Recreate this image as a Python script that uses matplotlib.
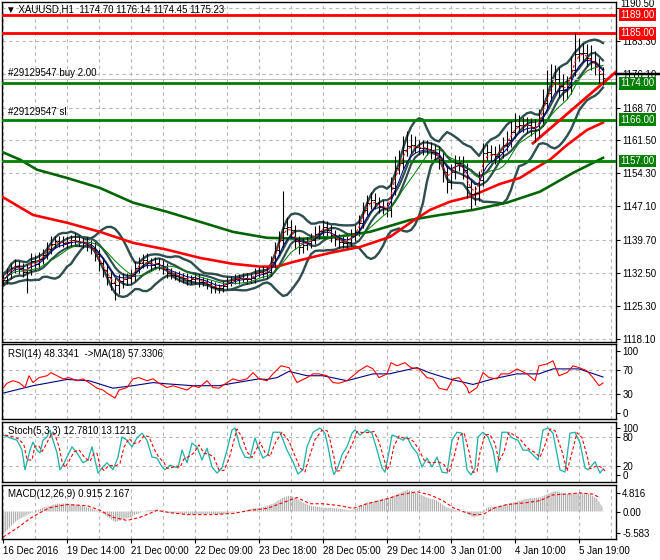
import matplotlib
matplotlib.use('Agg')
import matplotlib.pyplot as plt
import matplotlib.transforms as mtransforms
import numpy as np
import pandas as pd

plt.rcParams['font.family'] = ['Liberation Sans', 'DejaVu Sans']
plt.rcParams['hatch.linewidth'] = 0.9
plt.rcParams['hatch.color'] = '#b0b0b0'

W, H = 660, 560

# XAUUSD H1, one sample every 2nd bar (bar index 0 .. 300)
bar_x = np.arange(0, 301, 2)
closes = [
    1131.0, 1132.3, 1133.6, 1134.1, 1133.6, 1132.8, 1133.2, 1135.2, 1134.5, 1135.6,
    1136.5, 1137.8, 1138.9, 1139.5, 1139.3, 1139.1, 1139.3, 1139.8, 1139.5, 1139.3,
    1139.1, 1138.7, 1138.0, 1136.7, 1134.7, 1133.2, 1131.7, 1130.3, 1129.9, 1130.8,
    1131.2, 1131.4, 1131.9, 1133.6, 1134.7, 1135.4, 1134.7, 1134.3, 1134.7, 1134.3,
    1133.4, 1132.5, 1132.1, 1131.9, 1131.7, 1131.4, 1131.0, 1131.2, 1131.4, 1130.6,
    1130.6, 1130.1, 1129.5, 1129.3, 1129.3, 1129.7, 1130.6, 1131.0, 1131.2, 1131.4,
    1131.4, 1131.2, 1131.4, 1132.5, 1132.8, 1132.5, 1132.8, 1134.9, 1137.6, 1139.8,
    1142.4, 1142.6, 1141.9, 1139.5, 1138.2, 1138.7, 1139.1, 1139.8, 1141.1, 1141.7,
    1142.6, 1141.9, 1140.8, 1140.0, 1139.3, 1139.1, 1139.3, 1140.6, 1141.5, 1143.5,
    1146.3, 1147.9, 1148.5, 1147.9, 1147.2, 1146.8, 1146.3, 1151.1, 1155.5, 1156.6,
    1159.5, 1160.3, 1160.5, 1160.1, 1159.9, 1159.9, 1159.7, 1159.0, 1158.8, 1157.3,
    1154.6, 1152.4, 1154.6, 1156.6, 1156.6, 1155.1, 1151.4, 1149.8, 1150.0, 1152.9,
    1158.8, 1159.0, 1158.6, 1158.1, 1159.0, 1160.5, 1161.6, 1163.4, 1164.7, 1164.9,
    1164.9, 1164.9, 1164.5, 1163.8, 1166.0, 1169.7, 1171.9, 1174.3, 1175.0, 1173.5,
    1172.6, 1173.2, 1177.0, 1180.5, 1180.7, 1180.7, 1179.6, 1178.7, 1177.8, 1176.1,
    1175.2]
# wick above max(open, close) and below min(open, close)
bar_up = [
    1.0, 1.2, 1.0, 1.4, 1.0, 1.0, 1.2, 1.6, 1.2, 1.4,
    1.2, 1.4, 1.6, 1.2, 1.0, 1.4, 1.2, 1.0, 1.4, 1.2,
    1.0, 1.2, 1.0, 1.2, 1.0, 1.0, 1.2, 1.0, 1.0, 1.4,
    1.2, 1.0, 1.4, 1.6, 1.2, 1.2, 1.4, 1.0, 1.2, 1.0,
    1.0, 1.2, 1.0, 0.8, 1.0, 0.8, 1.0, 0.8, 1.0, 0.8,
    1.0, 0.8, 0.8, 1.0, 0.8, 1.0, 1.0, 0.8, 1.0, 0.8,
    1.0, 1.2, 1.0, 1.2, 1.0, 1.2, 1.0, 1.4, 1.6, 1.8,
    8.0, 2.2, 1.4, 1.2, 1.2, 1.4, 1.2, 1.4, 1.6, 1.2,
    1.4, 1.2, 1.2, 1.0, 1.0, 1.2, 1.4, 1.6, 1.4, 1.8,
    1.8, 1.6, 1.8, 1.4, 1.2, 1.2, 1.2, 2.4, 2.6, 2.8,
    3.0, 3.2, 2.4, 2.0, 1.6, 1.6, 1.8, 1.4, 1.6, 1.4,
    1.6, 1.6, 1.8, 1.8, 1.6, 1.6, 1.4, 1.4, 1.6, 2.0,
    2.2, 1.8, 1.6, 1.6, 1.8, 1.8, 2.0, 2.4, 2.8, 2.2,
    1.8, 1.8, 1.6, 1.6, 2.4, 3.0, 5.0, 4.0, 3.0, 2.6,
    2.6, 2.4, 3.0, 4.5, 3.2, 2.2, 2.0, 2.8, 2.4, 1.8,
    1.4]
bar_dn = [
    1.2, 1.0, 1.2, 1.0, 1.4, 1.2, 4.6, 1.2, 1.4, 1.0,
    1.2, 1.0, 1.2, 1.0, 1.2, 1.0, 1.2, 1.0, 1.2, 1.0,
    1.2, 1.4, 1.4, 1.6, 1.8, 1.6, 1.8, 1.6, 3.4, 2.0,
    1.6, 1.4, 1.2, 1.2, 1.0, 1.2, 1.0, 1.2, 1.0, 1.2,
    1.2, 1.0, 1.0, 1.0, 1.2, 1.0, 1.2, 1.0, 1.0, 1.2,
    1.0, 1.2, 1.4, 1.2, 1.2, 1.0, 1.0, 1.0, 0.8, 1.0,
    0.8, 1.0, 0.8, 1.0, 0.8, 1.0, 1.0, 1.0, 1.2, 1.2,
    1.6, 1.6, 1.8, 1.8, 1.6, 1.4, 1.2, 1.2, 1.0, 1.2,
    1.2, 1.4, 1.6, 1.6, 1.4, 1.2, 1.2, 1.0, 1.2, 1.0,
    1.2, 1.2, 1.4, 1.4, 1.6, 1.4, 1.6, 1.6, 1.6, 1.4,
    1.4, 1.4, 1.6, 1.4, 1.4, 1.6, 1.4, 1.6, 1.6, 2.0,
    2.2, 2.4, 1.6, 1.6, 1.8, 2.0, 2.4, 3.2, 2.4, 1.8,
    1.4, 1.6, 1.6, 1.8, 1.4, 1.4, 1.4, 1.6, 1.4, 1.4,
    1.6, 1.8, 2.0, 2.6, 1.6, 1.4, 1.6, 1.8, 2.2, 2.4,
    2.4, 2.0, 1.6, 1.4, 1.6, 2.0, 1.8, 1.8, 2.0, 2.0,
    1.6]

# slow moving averages (need history before the window)
ma_red_x = [-0.5, 15, 32, 48.5, 65, 82, 98.5, 115, 128.5, 137, 145, 155, 163.5, 178.5,
            193.5, 205, 213.5, 223.5, 233.5, 248.5, 258.5, 265, 273.5, 282, 292, 300]
ma_red = [1149.2, 1145.2, 1143.5, 1141.5, 1139.1, 1137.6, 1135.8, 1134.5, 1133.9, 1133.9,
          1134.9, 1136.0, 1136.9, 1138.2, 1140.4, 1143.9, 1146.3, 1148.1, 1149.2, 1152.0,
          1153.3, 1155.1, 1157.3, 1160.5, 1163.8, 1165.4]
ma_green_x = [-0.5, 8.5, 17, 32, 48.5, 65, 82, 98.5, 115, 132, 148.5, 163.5, 183.5, 203.5,
              218.5, 235, 252, 268.5, 285, 300]
ma_green = [1159.0, 1157.3, 1155.1, 1153.3, 1151.1, 1147.9, 1145.9, 1143.7, 1141.5, 1140.2,
            1140.0, 1140.2, 1141.5, 1144.1, 1145.2, 1146.3, 1147.9, 1150.3, 1154.4, 1157.7]

trend_x = [265, 306.5]
trend_y = [1160.9, 1176.5]

red_levels = [1189.0, 1185.0]
green_levels = [1174.0, 1166.0, 1157.0]
order_price = 1174.9
price_ticks = [1190.50, 1183.30, 1176.10, 1168.70, 1161.50, 1154.30, 1147.10,
               1139.70, 1132.50, 1125.30, 1118.10]

# RSI(14) and its MA(18)
rsi_x = [0, 2, 5, 8, 11, 13, 15, 18, 22, 24, 27, 30, 33, 37, 40, 43, 47, 50, 52, 56,
         58, 62, 65, 68, 72, 75, 78, 82, 85, 88, 92, 95, 98, 102, 105, 108, 112, 115, 118, 122,
         125, 128, 132, 135, 139, 143, 147, 150, 152, 155, 158, 162, 165, 168, 172, 175, 178, 182, 185, 188,
         192, 194, 197, 201, 204, 208, 212, 215, 218, 222, 225, 228, 232, 233, 237, 240, 243, 247, 249, 253,
         257, 262, 266, 268, 272, 275, 278, 282, 285, 288, 292, 295, 298, 300]
rsi = [40, 48, 52, 49, 41, 60, 49, 57, 60, 65, 60, 55, 57, 52, 55, 49, 40, 37, 32, 24,
       37, 41, 55, 57, 52, 55, 48, 41, 44, 41, 37, 44, 41, 52, 41, 40, 49, 55, 52, 55,
       65, 55, 52, 63, 76, 73, 49, 54, 57, 63, 63, 60, 49, 48, 52, 60, 68, 76, 71, 57,
       63, 81, 76, 81, 73, 71, 57, 55, 40, 37, 55, 57, 41, 32, 41, 65, 57, 55, 63, 63,
       71, 63, 52, 76, 79, 84, 60, 65, 76, 73, 68, 57, 44, 48.3]
rsima_x = [0, 15, 32, 43, 55, 65, 75, 82, 95, 108, 115, 128, 132, 137, 143, 152, 160, 172,
           185, 193, 207, 213, 223, 235, 245, 257, 268, 275, 288, 300]
rsima = [32, 44, 54, 52, 40, 44, 49, 47, 44, 44, 48, 55, 54, 57, 67, 60, 60, 52,
         63, 63, 73, 65, 55, 46, 55, 63, 63, 71, 71, 58]

# Stochastic %K (5,3,3)
stk_x = [0, 3.5, 7, 9.5, 11, 13.5, 15, 17, 18.5, 20,
         22, 23.5, 25, 27, 28.5, 30, 32, 34.5, 37, 40,
         42.5, 44.5, 46, 47.5, 49.5, 52, 55, 57.5, 59.5, 62,
         64.5, 67, 69.5, 72, 74.5, 77, 79.5, 81, 83.5, 86,
         87.5, 89.5, 92, 94.5, 97, 99.5, 102, 104.5, 107, 109.5,
         112, 114.5, 116, 118.5, 121, 123.5, 126, 127.5, 130, 132.5,
         135, 138.5, 142, 145, 147.5, 150, 152, 155, 158.5, 161,
         162.5, 164.5, 165.5, 167.5, 169.5, 172, 174.5, 176, 178.5, 182,
         184.5, 187, 189.5, 191, 192.5, 194.5, 197, 200, 202, 204.5,
         207, 209.5, 212, 214.5, 217, 219.5, 222, 224.5, 227, 229.5,
         232, 234, 236, 237.5, 240, 242.5, 245, 247, 249.5, 252,
         254.5, 257.5, 260, 262.5, 265, 267.5, 270, 272.5, 275, 278.5,
         281, 283.5, 286, 288.5, 291, 292.5, 296, 298.5, 300]
stk = [85, 79, 74, 53, 11, 53, 70, 53, 47, 74,
       81, 96, 74, 47, 11, 21, 38, 60, 47, 26,
       32, 60, 32, 4, 15, 26, 11, 38, 81, 74,
       60, 79, 89, 74, 38, 36, 17, 11, 21, 17,
       15, 53, 26, 68, 60, 32, 57, 17, 4, 15,
       53, 96, 100, 60, 38, 36, 79, 60, 36, 43,
       91, 91, 53, 28, 2, 11, 60, 91, 100, 89,
       60, 15, 1, 17, 43, 60, 89, 96, 85, 96,
       89, 53, 15, 6, 38, 85, 81, 74, 81, 60,
       47, 17, 36, 17, 38, 6, 4, 74, 91, 89,
       11, 0, 15, 81, 91, 81, 53, 6, 91, 91,
       79, 74, 53, 53, 43, 32, 96, 100, 89, 11,
       6, 89, 91, 68, 15, 11, 28, 4, 12.8]

# MACD(12,26,9)
macd_x = [0, 3.5, 7, 10, 13.5, 17, 20, 23.5, 27, 32, 37, 42, 47, 50, 53.5, 56, 58.5, 63.5, 67, 72,
          77, 82, 88.5, 95, 102, 108.5, 113.5, 118.5, 125, 130, 135, 140, 143.5, 147, 150, 153.5,
          160, 167, 173.5, 177, 182, 187, 193.5, 198.5, 202, 207, 212, 217, 222, 227, 232, 235,
          238.5, 242, 248.5, 255, 262, 268.5, 273.5, 276, 282, 288.5, 293.5, 297, 300]
macd_h = [-6.0, -4.0, -2.3, -1.5, -0.5, 0.3, 1.0, 1.5, 2.0, 2.1, 1.8, 1.1, 0.3, -0.5, -1.8, -2.7,
          -2.3, -1.5, -0.6, 0.3, 0.5, -0.3, -0.6, -0.8, -0.6, -0.8, -0.3, 0.0, 0.8, 1.1, 2.0, 3.6,
          4.1, 3.3, 2.3, 1.5, 1.0, 0.8, 0.3, 0.8, 2.3, 2.8, 3.6, 4.8, 5.6, 4.8, 3.6, 2.8, 1.0, 0.3,
          -0.5, -1.5, -1.0, 1.0, 1.5, 2.3, 3.3, 3.6, 4.8, 5.3, 4.5, 4.8, 4.5, 3.3, 0.9]
sig_x = [0, 7, 13.5, 18.5, 23.5, 32, 42, 48.5, 55, 62, 68.5, 77, 83.5, 92, 105, 115, 123.5, 132,
         140, 147, 153.5, 160, 168.5, 175, 182, 190, 198.5, 207, 213.5, 220, 225, 230, 235, 240,
         245, 252, 262, 268.5, 275, 282, 288.5, 295, 298.5]
sig = [-6.6, -4.3, -1.8, -0.3, 1.0, 1.8, 1.5, 0.3, -1.5, -2.3, -1.5, 0.3, -0.3, -0.8, -0.8, -0.5,
       0.3, 0.8, 2.3, 3.6, 2.0, 2.0, 1.5, 0.8, 2.0, 3.0, 4.3, 5.1, 4.3, 2.8, 1.0, 0.0, -0.8, -0.8,
       0.8, 1.8, 2.3, 2.8, 4.3, 4.5, 4.8, 4.5, 3.5]

date_ticks = [0, 32, 64, 96, 128, 160, 192, 224, 256, 288]
date_labels = ['16 Dec 2016', '19 Dec 14:00', '21 Dec 00:00', '22 Dec 09:00', '23 Dec 18:00',
               '28 Dec 05:00', '29 Dec 14:00', '3 Jan 01:00', '4 Jan 10:00', '5 Jan 19:00']

# ---------------------------------------------------------------
PX = 0.72  # points per pixel at 100 dpi
FS = 7
GRID = dict(color='#b8b8b8', lw=0.8, ls=(0, (3, 3)))
fig = plt.figure(figsize=(W / 100, H / 100), dpi=100)


def px_axes(x0, y0, x1, y1):
    return fig.add_axes([x0 / W, 1 - y1 / H, (x1 - x0) / W, (y1 - y0) / H])


def style(ax, ticks, labels, ylim):
    ax.set_xlim(-0.5, 306.5)
    ax.set_ylim(*ylim)
    ax.yaxis.tick_right()
    ax.set_yticks(ticks)
    ax.set_yticklabels(labels, fontsize=FS)
    ax.tick_params(axis='y', direction='out', length=3, width=0.8, pad=1.5)
    ax.tick_params(axis='x', bottom=False, labelbottom=False)
    for s in ax.spines.values():
        s.set_color('black')
        s.set_linewidth(1.0)
    for gx in range(0, 306, 16):
        ax.axvline(gx, zorder=0, **GRID)


ax = px_axes(2, 2, 616, 342)
ax_rsi = px_axes(2, 344, 616, 419)
ax_st = px_axes(2, 422, 616, 482)
ax_m = px_axes(2, 485, 616, 539)

# ---------------- main price panel
# top label 1190.50 is written by hand a bit higher, so it clears the 1189.00 box
main_labels = ['%.2f' % t for t in price_ticks]
main_labels[0] = ''
style(ax, price_ticks, main_labels, (1117.4, 1191.8))
for t in price_ticks:
    ax.axhline(t, zorder=0, **GRID)

c = pd.Series(closes)
opens = c.shift(1).fillna(c.iloc[0])
highs = np.maximum(opens, c) + np.array(bar_up)
lows = np.minimum(opens, c) - np.array(bar_dn)

bb_mid = c.rolling(10, min_periods=1).mean()
bb_sd = c.rolling(10, min_periods=2).std(ddof=0).bfill()
env_mid = c.rolling(6, min_periods=1).mean()
slate = '#2f4f4f'
ax.plot(bar_x, bb_mid + 2 * bb_sd, color=slate, lw=2.4 * PX, zorder=2)
ax.plot(bar_x, bb_mid - 2 * bb_sd, color=slate, lw=2.4 * PX, zorder=2)
ax.plot(bar_x, env_mid + 1.0, color=slate, lw=2.2 * PX, zorder=2)
ax.plot(bar_x, env_mid - 1.0, color=slate, lw=2.2 * PX, zorder=2)

ax.plot(ma_green_x, ma_green, color='#006400', lw=2.6 * PX, zorder=3)
ax.plot(ma_red_x, ma_red, color='#ff0000', lw=2.6 * PX, zorder=3)

for lv in red_levels:
    ax.axhline(lv, color='#ff0000', lw=2.8 * PX, zorder=3)
for lv in green_levels:
    ax.axhline(lv, color='#008000', lw=2.8 * PX, zorder=3)
ax.axhline(order_price, color='#c0c0c0', lw=1 * PX, zorder=2)
ax.plot(trend_x, trend_y, color='#ff0000', lw=2.8 * PX, zorder=3)

ax.vlines(bar_x, lows, highs, color='black', lw=1.1 * PX, zorder=4)
ax.hlines(opens, bar_x - 0.9, bar_x, color='black', lw=1 * PX, zorder=4)
ax.hlines(c, bar_x, bar_x + 0.9, color='black', lw=1 * PX, zorder=4)

ax.plot(bar_x, c.rolling(10, min_periods=1).mean(), color='#008000', lw=1 * PX, zorder=5)
ax.plot(bar_x, c.ewm(span=5).mean(), color='#000080', lw=1 * PX, zorder=5)
ax.plot(bar_x, c.ewm(span=2.2).mean(), color='#ff0000', lw=1 * PX, ls=(0, (3, 2)), zorder=5)

ax.text(2.5, order_price + 0.3, '#29129547 buy 2.00', fontsize=FS, va='bottom', ha='left')
ax.text(2.5, green_levels[1] + 0.6, '#29129547 sl', fontsize=FS, va='bottom', ha='left')

blend = mtransforms.blended_transform_factory(ax.transAxes, ax.transData)
ax.text(1.0065, 1191.4, '%.2f' % price_ticks[0], transform=blend, fontsize=FS,
        va='center', ha='left', clip_on=False)
ax.plot([1.0, 1.08], [1176.0, 1176.0], color='black', lw=2.5 * PX, transform=blend,
        clip_on=False, zorder=6)
for lv in red_levels:
    ax.text(1.0065, lv, '%.2f' % lv, transform=blend, fontsize=FS, color='white',
            va='center', ha='left', zorder=7,
            bbox=dict(boxstyle='square,pad=0.15', fc='#ff0000', ec='none'))
for lv in green_levels:
    ax.text(1.0065, lv, '%.2f' % lv, transform=blend, fontsize=FS, color='white',
            va='center', ha='left', zorder=7,
            bbox=dict(boxstyle='square,pad=0.15', fc='#008000', ec='none'))

fig.text(6 / W, 1 - 10 / H, '\u25bc XAUUSD,H1  1174.70 1176.14 1174.45 1175.23',
         fontsize=FS, va='center', ha='left')

# ---------------- RSI
style(ax_rsi, [100, 70, 30, 0], ['100', '70', '30', '0'], (-9.5, 111))
for lv in (70, 30):
    ax_rsi.axhline(lv, zorder=0, **GRID)
ax_rsi.plot(rsima_x, rsima, color='#000080', lw=1.1 * PX)
ax_rsi.plot(rsi_x, rsi, color='#ff0000', lw=1.1 * PX)
ax_rsi.text(0.01, 0.93, 'RSI(14) 48.3341  ->MA(18) 57.3306', transform=ax_rsi.transAxes,
            fontsize=FS, va='top', ha='left')

# ---------------- Stochastic
style(ax_st, [100, 80, 20, 0], ['100', '80', '20', '0'], (-15, 112.8))
for lv in (80, 20):
    ax_st.axhline(lv, zorder=0, **GRID)
stk_d = pd.Series(stk).rolling(2, min_periods=1).mean()
ax_st.plot(stk_x, stk, color='#20b2aa', lw=1.3 * PX)
ax_st.plot(np.array(stk_x) + 1.0, stk_d, color='#ff0000', lw=1.1 * PX, ls=(0, (3, 2)))
ax_st.text(0.01, 0.93, 'Stoch(5,3,3) 12.7810 13.1213', transform=ax_st.transAxes,
           fontsize=FS, va='top', ha='left')

# ---------------- MACD
style(ax_m, [4.816, 0.0, -5.583], ['4.816', '0.00', '-5.583'], (-7.09, 6.84))
ax_m.fill_between(macd_x, 0, macd_h, facecolor='none', edgecolor='#b0b0b0',
                  hatch='||||||||', lw=0)
ax_m.plot(sig_x, sig, color='#ff0000', lw=1.1 * PX, ls=(0, (3, 2)))
ax_m.text(0.01, 0.93, 'MACD(12,26,9) 0.915 2.167', transform=ax_m.transAxes,
          fontsize=FS, va='top', ha='left')
ax_m.tick_params(axis='x', bottom=True, labelbottom=True, direction='out', length=3,
                 width=0.8, pad=2)
ax_m.set_xticks(date_ticks)
ax_m.set_xticklabels(date_labels, fontsize=FS)
for lbl in ax_m.get_xticklabels():
    lbl.set_ha('left')

fig.savefig('out.png', dpi=100)
